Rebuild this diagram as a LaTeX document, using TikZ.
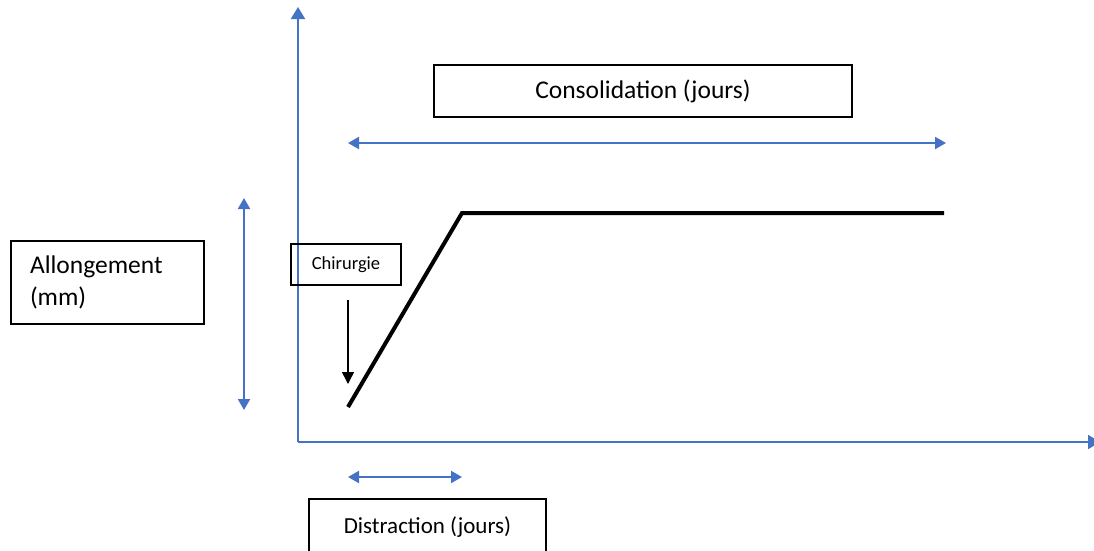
\documentclass[tikz,border=0pt]{standalone}
\usepackage{fontspec}
\setmainfont{Carlito}
\usetikzlibrary{arrows.meta,positioning}
\definecolor{axisblue}{HTML}{4472C4}

\begin{document}
\begin{tikzpicture}[
		x=1pt,
		y=-1pt,
		box/.style={
			draw,
			line width=1.5pt,
			align=center,
			inner sep=0pt
		},
		axis/.style={axisblue,line width=2pt,-{Triangle[length=12pt,width=14pt]}},
		span/.style={axisblue,line width=2pt,{Triangle[length=11pt,width=12pt]}-{Triangle[length=11pt,width=12pt]}},
		curve/.style={line width=4pt}
		]
		
		\useasboundingbox (0,0) rectangle (1094,550);
		
		% axes
		\coordinate (origin) at (298,442);
		\coordinate (ytop) at (298,7);
		\coordinate (xend) at (1100,442);
		\draw[axis] (origin) -- (ytop);
		\draw[axis] (origin) -- (xend);
		
		% boxes
		\node[box,minimum width=418pt,minimum height=52pt,font=\fontsize{25.5}{30}\selectfont] (conso)
		at (643,91) {Consolidation (jours)};
		
		\node[box,minimum width=193pt,minimum height=83pt,align=left,text width=155pt,
		font=\fontsize{25.5}{32}\selectfont] (allong)
		at (107.5,282.5) {Allongement\\(mm)};
		
		\node[box,minimum width=110pt,minimum height=41pt,font=\fontsize{18.5}{22}\selectfont] (chir)
		at (346,264.5) {Chirurgie};
		
		\node[box,minimum width=237pt,minimum height=60pt,text depth=0pt,
		font=\fontsize{23}{27}\selectfont] (distr)
		at (427.5,529) {\raisebox{7pt}{Distraction (jours)}};
		
		% lengthening curve
		\coordinate (start) at (348,407);
		\coordinate (knee) at (462,213);
		\coordinate (finish) at (944,213);
		\draw[curve] (start) -- (knee) -- (finish);
		
		% spans
		\coordinate (consoL) at (348,143);
		\coordinate (consoR) at (946,143);
		\draw[span] (consoL) -- (consoR);
		
		\coordinate (allongT) at (244,198);
		\coordinate (allongB) at (244,410);
		\draw[span] (allongT) -- (allongB);
		
		\coordinate (distrL) at (348,477);
		\coordinate (distrR) at (462,477);
		\draw[span] (distrL) -- (distrR);
		
		% surgery marker
		\coordinate (chirA) at (348,300);
		\coordinate (chirB) at (348,384);
		\draw[line width=1.5pt,-{Triangle[length=12pt,width=12pt]}] (chirA) -- (chirB);
		
	\end{tikzpicture}
\end{document}
